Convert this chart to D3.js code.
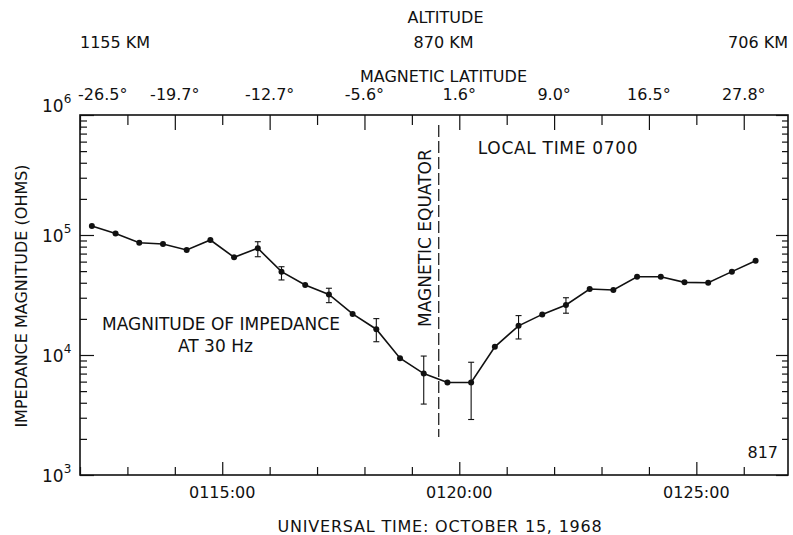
<!DOCTYPE html>
<html>
<head>
<meta charset="utf-8">
<script src="https://cdn.jsdelivr.net/npm/d3@7"></script>
<style>
  body { margin: 0; background: #fff; }
  text { font-family: "DejaVu Sans", sans-serif; fill: #111; }
</style>
</head>
<body>
<script>
// universal time of each measurement (every 30 s)
var times = ["01:12:15", "01:12:45", "01:13:15", "01:13:45", "01:14:15", "01:14:45",
             "01:15:15", "01:15:45", "01:16:15", "01:16:45", "01:17:15", "01:17:45",
             "01:18:15", "01:18:45", "01:19:15", "01:19:45", "01:20:15", "01:20:45",
             "01:21:15", "01:21:45", "01:22:15", "01:22:45", "01:23:15", "01:23:45",
             "01:24:15", "01:24:45", "01:25:15", "01:25:45", "01:26:15"];
// impedance magnitude, ohms
var impedance = [119000, 103000, 86300, 84100, 75000, 90800, 65200, 77500, 49500,
                 38300, 32000, 22000, 16400, 9400, 7000, 5900, 5900, 11700, 17500,
                 21800, 26100, 35500, 34800, 44900, 44900, 40300, 40000, 49500, 61100];

// error bars
var errTimes = ["01:15:45", "01:16:15", "01:17:15", "01:18:15", "01:19:15", "01:20:15", "01:21:15", "01:22:15"];
var errHigh = [87900, 54400, 36000, 20100, 9800, 8700, 21300, 30000];
var errLow  = [65900, 42200, 27300, 12900, 3900, 2900, 13600, 22300];

// top axis: magnetic latitude at even minutes
var latTimes = ["01:12:00", "01:14:00", "01:16:00", "01:18:00", "01:20:00", "01:22:00", "01:24:00", "01:26:00"];
var latLabels = ["-26.5°", "-19.7°", "-12.7°", "-5.6°", "1.6°", "9.0°", "16.5°", "27.8°"];

// altitude along the pass
var altTimes = ["01:12:00", "01:19:40", "01:26:56"];
var altLabels = ["1155 KM", "870 KM", "706 KM"];

var equatorTime = "01:19:34";
var timeDomain = ["01:12:00", "01:26:56"];
var impDomain = [1e3, 1e6];

var width = 793, height = 535;
var margin = { top: 115, right: 5, bottom: 60, left: 80 };

var parse = d3.timeParse("%H:%M:%S");

var svg = d3.select("body").append("svg")
    .attr("width", width)
    .attr("height", height);

var x = d3.scaleTime()
    .domain(timeDomain.map(parse))
    .range([margin.left, width - margin.right]);

var y = d3.scaleLog()
    .domain(impDomain)
    .range([height - margin.bottom, margin.top]);

var x0 = x.range()[0], x1 = x.range()[1], y0 = y.range()[0], y1 = y.range()[1];

// frame
svg.append("rect")
    .attr("x", x0).attr("y", y1)
    .attr("width", x1 - x0).attr("height", y0 - y1)
    .attr("fill", "none").attr("stroke", "#111").attr("stroke-width", 1.6);

// bottom axis, ticks every minute pointing in
var bottomAxis = svg.append("g")
    .attr("transform", "translate(0," + y0 + ")")
    .call(d3.axisTop(x).ticks(d3.timeMinute.every(1)).tickFormat("").tickSizeOuter(0));
bottomAxis.select(".domain").remove();
bottomAxis.selectAll(".tick line")
    .attr("stroke", "#111").attr("stroke-width", 1.2)
    .attr("y2", function (d) { return d.getMinutes() % 5 === 0 ? -13 : -8; });

svg.selectAll(".timeLabel")
    .data(x.ticks(d3.timeMinute.every(5)))
    .enter().append("text")
    .attr("class", "timeLabel")
    .attr("x", function (d) { return x(d); })
    .attr("y", y0 + 23)
    .attr("text-anchor", "middle")
    .style("font-size", "16px")
    .text(d3.timeFormat("%H%M:%S"));

// top axis, magnetic latitude
var topAxis = svg.append("g")
    .attr("transform", "translate(0," + y1 + ")")
    .call(d3.axisBottom(x).ticks(d3.timeMinute.every(1)).tickFormat("").tickSizeOuter(0));
topAxis.select(".domain").remove();
topAxis.selectAll(".tick line")
    .attr("stroke", "#111").attr("stroke-width", 1.2)
    .attr("y2", function (d) { return d.getMinutes() % 2 === 0 ? 15 : 10; });

svg.selectAll(".latLabel")
    .data(latTimes)
    .enter().append("text")
    .attr("class", "latLabel")
    .attr("x", function (d, i) { return x(parse(d)) - (i === 0 ? 2 : 0); })
    .attr("y", y1 - 15)
    .attr("text-anchor", function (d, i) { return i === 0 ? "start" : "middle"; })
    .style("font-size", "16px")
    .text(function (d, i) { return latLabels[i]; });

// left and right log axes, ticks pointing in
var isDecade = function (d) { return Math.abs(Math.log10(d) - Math.round(Math.log10(d))) < 1e-9; };

var leftAxis = svg.append("g")
    .attr("transform", "translate(" + x0 + ",0)")
    .call(d3.axisRight(y).tickFormat("").tickSizeOuter(0));
leftAxis.select(".domain").remove();
leftAxis.selectAll(".tick line")
    .attr("stroke", "#111").attr("stroke-width", 1.2)
    .attr("x2", function (d) { return isDecade(d) ? 14 : 7; });

var rightAxis = svg.append("g")
    .attr("transform", "translate(" + x1 + ",0)")
    .call(d3.axisLeft(y).tickFormat("").tickSizeOuter(0));
rightAxis.select(".domain").remove();
rightAxis.selectAll(".tick line")
    .attr("stroke", "#111").attr("stroke-width", 1.2)
    .attr("x2", function (d) { return isDecade(d) ? -12 : -6; });

var decLabels = svg.selectAll(".decLabel")
    .data(y.ticks().filter(isDecade))
    .enter().append("text")
    .attr("class", "decLabel")
    .attr("x", x0 - 38)
    .attr("y", function (d) { return y(d) + (d >= 1e6 ? -3 : 7); })
    .style("font-size", "17px");
decLabels.append("tspan").text("10");
decLabels.append("tspan")
    .attr("dy", -9)
    .style("font-size", "12px")
    .text(function (d) { return Math.round(Math.log10(d)); });

// magnetic equator
svg.append("line")
    .attr("x1", x(parse(equatorTime))).attr("x2", x(parse(equatorTime)))
    .attr("y1", y1 + 10).attr("y2", y0 - 38)
    .attr("stroke", "#111").attr("stroke-width", 1.2)
    .attr("stroke-dasharray", "12,4");

svg.append("text")
    .attr("transform", "translate(" + (x(parse(equatorTime)) - 8) + "," + (y0 - 148) + ") rotate(-90)")
    .style("font-size", "17px")
    .text("MAGNETIC EQUATOR");

// error bars
var errData = errTimes.map(function (t, i) { return { t: parse(t), lo: errLow[i], hi: errHigh[i] }; });
var bars = svg.selectAll(".err")
    .data(errData)
    .enter().append("g")
    .attr("class", "err")
    .attr("stroke", "#111").attr("stroke-width", 1.1);
bars.append("line")
    .attr("x1", function (d) { return x(d.t); }).attr("x2", function (d) { return x(d.t); })
    .attr("y1", function (d) { return y(d.lo); }).attr("y2", function (d) { return y(d.hi); });
bars.append("line")
    .attr("x1", function (d) { return x(d.t) - 3; }).attr("x2", function (d) { return x(d.t) + 3; })
    .attr("y1", function (d) { return y(d.lo); }).attr("y2", function (d) { return y(d.lo); });
bars.append("line")
    .attr("x1", function (d) { return x(d.t) - 3; }).attr("x2", function (d) { return x(d.t) + 3; })
    .attr("y1", function (d) { return y(d.hi); }).attr("y2", function (d) { return y(d.hi); });

// series
var data = times.map(function (t, i) { return { t: parse(t), v: impedance[i] }; });

svg.append("path")
    .datum(data)
    .attr("fill", "none")
    .attr("stroke", "#111")
    .attr("stroke-width", 1.6)
    .attr("d", d3.line().x(function (d) { return x(d.t); }).y(function (d) { return y(d.v); }));

svg.selectAll(".dot")
    .data(data)
    .enter().append("circle")
    .attr("class", "dot")
    .attr("cx", function (d) { return x(d.t); })
    .attr("cy", function (d) { return y(d.v); })
    .attr("r", 3)
    .attr("fill", "#111");

// titles and notes
svg.append("text")
    .attr("x", x(parse(altTimes[1])) + 2).attr("y", 23)
    .attr("text-anchor", "middle").style("font-size", "16px")
    .text("ALTITUDE");

svg.selectAll(".altLabel")
    .data(altTimes)
    .enter().append("text")
    .attr("class", "altLabel")
    .attr("x", function (d) { return x(parse(d)); })
    .attr("y", 48)
    .attr("text-anchor", function (d, i) { return ["start", "middle", "end"][i]; })
    .style("font-size", "16px")
    .text(function (d, i) { return altLabels[i]; });

svg.append("text")
    .attr("x", x(parse(altTimes[1]))).attr("y", 82)
    .attr("text-anchor", "middle").style("font-size", "16px")
    .text("MAGNETIC LATITUDE");

svg.append("text")
    .attr("x", x(parse(equatorTime)) + 39).attr("y", 154)
    .style("font-size", "17px").style("letter-spacing", "0.7px")
    .text("LOCAL TIME 0700");

svg.append("text")
    .attr("x", 102).attr("y", 330)
    .style("font-size", "17px")
    .text("MAGNITUDE OF IMPEDANCE");

svg.append("text")
    .attr("x", 178).attr("y", 352)
    .style("font-size", "17px")
    .text("AT 30 Hz");

svg.append("text")
    .attr("transform", "translate(27," + ((y0 + y1) / 2 + 1) + ") rotate(-90)")
    .attr("text-anchor", "middle")
    .style("font-size", "16px")
    .text("IMPEDANCE MAGNITUDE (OHMS)");

svg.append("text")
    .attr("x", (x0 + x1) / 2 + 6).attr("y", 532)
    .attr("text-anchor", "middle")
    .style("font-size", "16px").style("letter-spacing", "0.8px")
    .text("UNIVERSAL TIME: OCTOBER 15, 1968");

svg.append("text")
    .attr("x", x1 - 10).attr("y", y0 - 17)
    .attr("text-anchor", "end")
    .style("font-size", "16px")
    .text("817");
</script>
</body>
</html>
